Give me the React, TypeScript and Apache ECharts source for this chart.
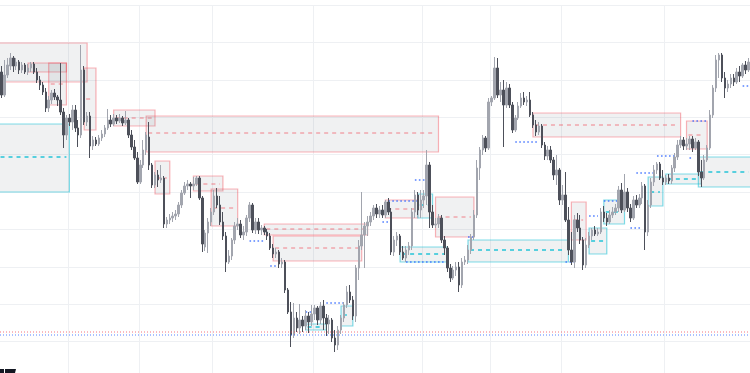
import React, { useEffect, useRef } from 'react';
import * as echarts from 'echarts';

// [open, close, low, high]
const candles: number[][] = [
  [307, 284, 281, 313], [284, 304, 282, 319], [304, 314, 301, 321], [313, 321, 309, 326], [321, 313, 307, 323],
  [313, 317, 309, 321], [317, 309, 305, 319], [309, 314, 306, 317], [314, 307, 305, 316], [307, 311, 304, 315],
  [311, 315, 307, 317], [315, 307, 305, 317], [307, 299, 296, 311], [299, 294, 289, 303], [294, 287, 284, 297],
  [287, 271, 267, 291], [271, 279, 267, 283], [279, 286, 275, 289], [286, 282, 279, 290], [282, 279, 273, 284],
  [279, 267, 264, 316], [267, 244, 231, 271], [244, 261, 239, 264], [261, 257, 253, 265], [257, 269, 249, 274],
  [269, 251, 247, 274], [251, 244, 232, 259], [244, 309, 241, 334], [309, 257, 254, 313], [257, 263, 253, 267],
  [263, 233, 221, 267], [233, 239, 229, 243], [239, 235, 233, 242], [235, 241, 233, 244], [241, 245, 238, 249],
  [245, 251, 242, 254], [251, 259, 249, 270], [259, 255, 252, 264], [255, 261, 253, 265], [261, 258, 255, 264],
  [258, 261, 256, 265], [261, 256, 253, 263], [256, 259, 254, 268], [259, 244, 241, 261], [244, 232, 229, 249],
  [232, 221, 219, 239], [221, 197, 195, 227], [197, 214, 195, 219], [214, 229, 211, 239], [229, 244, 224, 247],
  [242, 214, 209, 257], [214, 194, 191, 216], [194, 204, 191, 207], [204, 199, 192, 209], [199, 201, 196, 214],
  [201, 155, 151, 203], [155, 159, 151, 162], [159, 161, 155, 165], [161, 163, 157, 167], [163, 165, 159, 169],
  [165, 174, 162, 177], [174, 186, 171, 189], [186, 193, 184, 197], [193, 195, 189, 199], [195, 193, 181, 197],
  [193, 195, 189, 202], [195, 201, 193, 203], [201, 181, 179, 203], [181, 135, 127, 183], [132, 146, 128, 149],
  [146, 157, 126, 161], [157, 167, 153, 171], [167, 183, 164, 189], [183, 174, 171, 191], [174, 157, 154, 183],
  [157, 143, 139, 167], [143, 117, 107, 147], [117, 123, 115, 129], [123, 139, 119, 141], [139, 153, 135, 157],
  [153, 155, 149, 161], [155, 144, 141, 159], [144, 147, 139, 153], [147, 161, 143, 164], [161, 174, 157, 177],
  [174, 149, 146, 176], [149, 157, 145, 161], [157, 149, 145, 161], [149, 151, 144, 154], [151, 147, 144, 153],
  [147, 143, 139, 150], [143, 131, 129, 146], [131, 125, 121, 135], [125, 127, 121, 131], [127, 115, 111, 129],
  [115, 117, 111, 121], [117, 89, 86, 119], [89, 67, 65, 91], [67, 44, 32, 77], [44, 61, 41, 76],
  [61, 51, 47, 67], [51, 59, 45, 75], [59, 53, 47, 63], [53, 63, 49, 69], [63, 57, 46, 67],
  [57, 65, 53, 74], [65, 71, 59, 74], [71, 59, 54, 73], [59, 73, 55, 77], [73, 61, 49, 79],
  [61, 55, 43, 65], [55, 59, 45, 64], [59, 41, 37, 61], [41, 34, 27, 49], [34, 49, 29, 53],
  [49, 61, 45, 64], [61, 74, 57, 77], [74, 87, 71, 93], [87, 79, 76, 94], [79, 63, 59, 83],
  [63, 111, 57, 114], [111, 133, 99, 139], [133, 144, 129, 187], [144, 153, 111, 157], [153, 157, 143, 163],
  [157, 163, 153, 167], [163, 171, 159, 174], [171, 165, 161, 175], [165, 169, 161, 173], [169, 164, 161, 174],
  [164, 177, 161, 179], [177, 167, 164, 181], [167, 127, 124, 171], [127, 139, 123, 143], [139, 143, 133, 147],
  [143, 127, 124, 145], [127, 121, 119, 133], [121, 129, 117, 133], [129, 133, 124, 137], [133, 167, 129, 171],
  [167, 184, 161, 189], [184, 169, 164, 187], [169, 179, 161, 189], [179, 183, 171, 189], [183, 214, 174, 229],
  [214, 167, 151, 217], [167, 154, 151, 174], [154, 155, 151, 161], [155, 161, 151, 165], [161, 139, 136, 164],
  [139, 131, 124, 143], [131, 111, 107, 133], [111, 101, 97, 115], [101, 109, 99, 113], [109, 112, 103, 117],
  [112, 94, 87, 117], [94, 117, 91, 121], [117, 119, 114, 123], [119, 129, 115, 134], [129, 142, 125, 145],
  [142, 164, 139, 169], [164, 211, 161, 219], [211, 229, 199, 232], [229, 241, 224, 244], [241, 231, 227, 243],
  [231, 277, 229, 281], [277, 281, 273, 283], [281, 311, 279, 322], [311, 284, 281, 321], [284, 289, 277, 297],
  [289, 274, 232, 299], [274, 291, 271, 297], [291, 274, 271, 295], [274, 249, 246, 277], [249, 261, 247, 264],
  [261, 273, 259, 277], [273, 281, 271, 286], [281, 277, 274, 287], [277, 279, 273, 283], [279, 264, 262, 287],
  [264, 254, 251, 267], [254, 247, 243, 259], [247, 253, 244, 257], [253, 234, 231, 255], [234, 223, 219, 237],
  [223, 229, 219, 233], [229, 219, 216, 233], [219, 204, 199, 222], [204, 209, 194, 224], [209, 179, 174, 211],
  [179, 184, 174, 194], [184, 159, 157, 207], [159, 129, 124, 172], [129, 117, 114, 147], [117, 159, 111, 164],
  [159, 151, 147, 166], [151, 139, 135, 164], [139, 114, 109, 142], [114, 134, 111, 141], [134, 143, 131, 147],
  [143, 149, 139, 151], [149, 145, 143, 153], [145, 147, 143, 151], [147, 167, 145, 171], [167, 161, 157, 173],
  [161, 157, 153, 166], [157, 164, 155, 169], [164, 167, 161, 172], [167, 171, 164, 175], [171, 189, 167, 193],
  [189, 169, 166, 196], [169, 187, 167, 205], [187, 171, 167, 191], [171, 161, 157, 175], [161, 179, 159, 183],
  [179, 174, 171, 184], [174, 181, 171, 185], [181, 193, 175, 197], [193, 147, 129, 195], [147, 174, 143, 179],
  [174, 197, 171, 201], [197, 209, 193, 214], [209, 215, 205, 217], [215, 201, 199, 217], [201, 197, 194, 209],
  [197, 201, 194, 204], [201, 198, 195, 205], [198, 211, 195, 214], [211, 222, 207, 226], [222, 234, 219, 239],
  [234, 239, 231, 243], [239, 233, 229, 242], [233, 235, 229, 241], [235, 240, 229, 243], [240, 231, 227, 243],
  [231, 237, 229, 241], [237, 207, 203, 239], [207, 201, 192, 219], [201, 219, 199, 224], [219, 231, 217, 234],
  [231, 264, 229, 269], [264, 291, 261, 294], [291, 319, 287, 324], [319, 324, 301, 326], [324, 301, 297, 326],
  [301, 291, 281, 307], [291, 295, 287, 299], [295, 301, 291, 305], [301, 297, 293, 305], [297, 307, 295, 311],
  [307, 303, 297, 313], [303, 314, 301, 316], [314, 309, 305, 318], [309, 317, 307, 321],
];

const times = candles.map((_, i) => `H${i}`);
const sessionStarts = [23, 47, 72, 106, 143, 166, 190, 225];

// [startIndex, endIndex, top, bottom, mid] (mid = null: no midline drawn)
const redBoxes: (number | null)[][] = [
  [-1, 29, 336, 297, null],
  [9, 22, 316, 307, null],
  [16, 22, 316, 274, 295],
  [28, 32, 311, 249, 280],
  [38, 52, 269, 253, 261],
  [49, 148, 263, 227, 246],
  [52, 57, 218, 185, 201],
  [65, 75, 203, 188, 195],
  [71, 80, 190, 153, 171],
  [89, 124, 155, 144, 150],
  [92, 122, 143, 118, 131],
  [130, 141, 179, 161, 170],
  [147, 160, 182, 142, 162],
  [180, 230, 266, 242, 254],
  [193, 198, 177, 139, 159],
  [232, 239, 258, 230, 244],
];

const cyanBoxes: (number | null)[][] = [
  [-1, 23, 255, 187, 222],
  [103, 110, 55, 49, 52],
  [115, 119, 73, 53, 64],
  [141, 146, 185, 161, 174],
  [135, 151, 132, 117, 125],
  [158, 192, 139, 117, 129],
  [199, 205, 151, 125, 138],
  [204, 211, 179, 155, 167],
  [219, 224, 202, 173, 187],
  [225, 237, 205, 195, 200],
  [236, 254, 222, 192, 207],
];

// [startIndex, endIndex, level]
const liquidity: number[][] = [
  [84, 89, 138], [91, 93, 113], [103, 108, 67], [110, 117, 76], [129, 131, 157],
  [131, 141, 178], [140, 144, 199], [137, 150, 117], [158, 160, 142], [174, 182, 237],
  [191, 195, 117], [199, 202, 163], [204, 209, 178], [213, 217, 151], [215, 221, 206],
  [222, 228, 223], [233, 234, 221], [234, 239, 258], [251, 254, 293],
];

const sellSideLevel = 47;
const buySideLevel = 44;

const UP = '#a2a5ae';
const DOWN = '#4d505a';
const GRID = '#eef0f3';

function boxSeries(data: (number | null)[][], border: string, midColor: string, midWidth: number) {
  return {
    type: 'custom',
    silent: true,
    z: 1,
    encode: { x: [0, 1], y: [2, 3] },
    data,
    renderItem: (params: any, api: any) => {
      const row = data[params.dataIndex];
      const i1 = api.value(0);
      const i2 = api.value(1);
      const p1 = api.coord([i1, api.value(2)]);
      const p2 = api.coord([i2, api.value(3)]);
      const children: any[] = [
        {
          type: 'rect',
          shape: { x: p1[0], y: p1[1], width: p2[0] - p1[0], height: p2[1] - p1[1] },
          style: { fill: 'rgba(120,123,134,0.11)', stroke: border, lineWidth: 1.2 },
        },
      ];
      if (row[4] != null) {
        const pm = api.coord([i1, row[4]]);
        children.push({
          type: 'line',
          shape: { x1: p1[0] + 2, y1: pm[1], x2: p2[0] - 3, y2: pm[1] },
          style: { stroke: midColor, lineWidth: midWidth, lineDash: [4, 4] },
        });
      }
      return { type: 'group', children };
    },
  };
}

export default function App() {
  const ref = useRef<HTMLDivElement>(null);
  useEffect(() => {
    if (!ref.current) return;
    const chart = echarts.init(ref.current, undefined, { renderer: 'svg' });
    const option: any = {
      animation: false,
      backgroundColor: '#ffffff',
      grid: { left: 0, right: 0, top: 5, height: 374, containLabel: false, outerBoundsMode: 'none' },
      xAxis: {
        type: 'category',
        data: times,
        boundaryGap: true,
        axisLine: { show: false },
        axisTick: { show: false },
        axisLabel: { show: false },
        splitLine: {
          show: true,
          interval: (index: number) => sessionStarts.indexOf(index) >= 0,
          lineStyle: { color: GRID, width: 1 },
        },
      },
      yAxis: {
        type: 'value',
        min: 0,
        max: 374,
        interval: 37.4,
        axisLine: { show: false },
        axisTick: { show: false },
        axisLabel: { show: false },
        splitLine: { show: true, lineStyle: { color: GRID, width: 1 } },
      },
      series: [
        boxSeries(redBoxes, 'rgba(242,54,69,0.38)', 'rgba(242,54,69,0.6)', 1),
        boxSeries(cyanBoxes, 'rgba(0,188,212,0.5)', 'rgba(0,188,212,0.85)', 1.3),
        {
          type: 'custom',
          silent: true,
          z: 2,
          encode: { x: [0, 1], y: [2] },
          data: liquidity,
          renderItem: (_params: any, api: any) => {
            const a = api.coord([api.value(0), api.value(2)]);
            const b = api.coord([api.value(1), api.value(2)]);
            return {
              type: 'line',
              shape: { x1: a[0], y1: a[1], x2: b[0], y2: b[1] },
              style: { stroke: 'rgba(41,98,255,0.8)', lineWidth: 1.6, lineDash: [1.6, 2.4] },
            };
          },
        },
        {
          type: 'candlestick',
          data: candles,
          z: 3,
          barWidth: 2,
          itemStyle: {
            color: UP,
            color0: DOWN,
            borderColor: UP,
            borderColor0: DOWN,
            borderWidth: 1,
          },
          markLine: {
            silent: true,
            symbol: 'none',
            label: { show: false },
            data: [
              { yAxis: sellSideLevel, lineStyle: { color: 'rgba(242,54,69,0.35)', width: 2, type: [1, 2] } },
              { yAxis: buySideLevel, lineStyle: { color: 'rgba(41,98,255,0.4)', width: 2, type: [1, 2] } },
            ],
          },
        },
      ],
      graphic: [
        {
          type: 'group',
          left: 0,
          top: 369,
          children: [
            { type: 'rect', shape: { x: 0, y: 0, width: 4, height: 4 }, style: { fill: '#131722' } },
            { type: 'rect', shape: { x: 5, y: 0, width: 7, height: 4 }, style: { fill: '#131722' } },
            { type: 'polygon', shape: { points: [[12, 0], [16, 0], [15, 4], [11, 4]] }, style: { fill: '#131722' } },
          ],
        },
      ],
    };
    chart.setOption(option);
    return () => chart.dispose();
  }, []);
  return <div ref={ref} style={{ position: 'fixed', left: 0, top: 0, width: 750, height: 373 }} />;
}
